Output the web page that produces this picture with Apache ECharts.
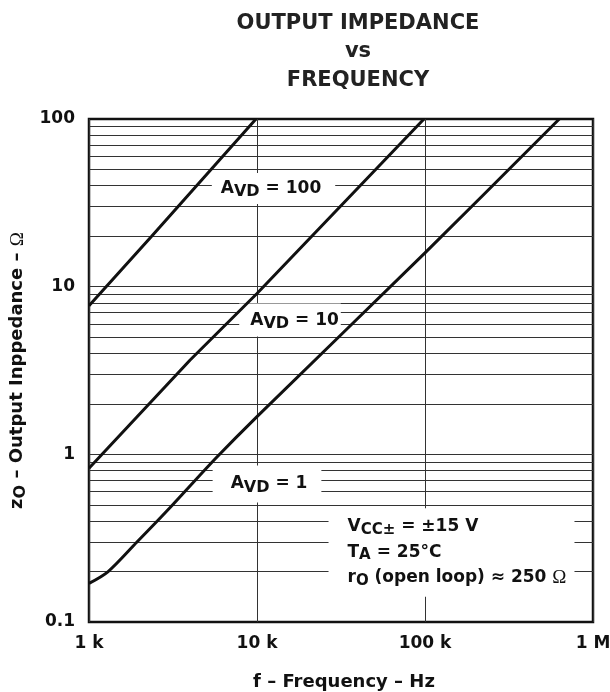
<!DOCTYPE html>
<html><head><meta charset="utf-8">
<script src="https://cdn.jsdelivr.net/npm/echarts@6/dist/echarts.min.js"></script>
<style>html,body{margin:0;padding:0;background:#fff}#c{width:610px;height:692px}</style>
</head><body><div id="c"></div>
<script>
// ---- data ----
const xTickLabels = ['1 k', '10 k', '100 k', '1 M'];      // 10^3 .. 10^6
const yTickLabels = ['0.1', '1', '10', '100'];           // 10^-1 .. 10^2
const gridValues = [0.2,0.3,0.4,0.5,0.6,0.7,0.8,0.9,1,2,3,4,5,6,7,8,9,10,20,30,40,50,60,70,80,90];
const avd100 = [[1000,7.7],[2360,20],[9860,100]];
const avd10  = [[1000,0.825],[4000,3.65],[10000,9.1],[98600,100]];
const avd1   = [[1000,0.17],[1300,0.2],[1930,0.3],[2550,0.4],[3150,0.5],[5700,0.95],[10000,1.68],[100000,15.9],[630000,100]];
const curveLabels = ['A{s|VD} = 100', 'A{s|VD} = 10', 'A{s|VD} = 1'];
const curveLabelAnchors = [[12540,38.5],[15720,6.32],[11470,0.665]];
const conditionLines = ['{t|V}{s|CC±}{t| = ±15 V}', '{t|T}{s|A}{t| = 25°C}', '{t|r}{s|O}{t| (open loop) ≈ 250 }{om|Ω}'];
const conditionAnchor = [143800, 0.26];
const titleText = 'OUTPUT IMPEDANCE\nvs\nFREQUENCY';
const xName = 'f – Frequency – Hz';
const yName = 'z{s|O} – Output Inppedance – {om|Ω}';

// ---- styles ----
const FONT = 'DejaVu Sans';
const INK = '#111';
const labelPads = [[4,14,4,9],[5,2,5,11],[7,14,7,18]];
const subStyle = {fontFamily: FONT, fontSize: 16, fontWeight: 'bold', color: INK, padding: [7,0,0,0]};

const chart = echarts.init(document.getElementById('c'), null, {renderer: 'canvas'});
const lg = v => Math.round(Math.log10(v));

chart.setOption({
  animation: false,
  backgroundColor: '#fff',
  title: {
    text: titleText, left: 358, top: 9, textAlign: 'center', padding: 0,
    textStyle: {fontFamily: FONT, fontSize: 21, fontWeight: 'bold', color: '#222', lineHeight: 28.5}
  },
  grid: {left: 89, right: 17, top: 119, bottom: 70, show: true, borderColor: INK, borderWidth: 2.5,
         backgroundColor: 'transparent', containLabel: false, outerBoundsMode: 'none'},
  xAxis: {
    type: 'log', logBase: 10, min: 1000, max: 1000000,
    name: xName, nameLocation: 'middle', nameGap: 51,
    nameTextStyle: {fontFamily: FONT, fontSize: 18, fontWeight: 'bold', color: INK, padding: [0,0,0,6]},
    axisLine: {show: false}, axisTick: {show: false},
    axisLabel: {margin: 13, fontFamily: FONT, fontSize: 17, fontWeight: 'bold', color: INK,
                formatter: v => xTickLabels[lg(v) - 3]},
    splitLine: {show: true, lineStyle: {color: '#333', width: 1}},
    minorTick: {show: false}, minorSplitLine: {show: false}
  },
  yAxis: {
    type: 'log', logBase: 10, min: 0.1, max: 100,
    name: yName, nameLocation: 'middle', nameGap: 57,
    nameTextStyle: {fontFamily: FONT, fontSize: 18, fontWeight: 'bold', color: INK,
      rich: {s: {fontFamily: FONT, fontSize: 16, fontWeight: 'bold', color: INK, padding: [6,0,0,0]},
             om: {fontFamily: 'Liberation Serif', fontSize: 19, fontWeight: 'normal', color: INK}}},
    axisLine: {show: false}, axisTick: {show: false},
    axisLabel: {margin: 14, fontFamily: FONT, fontSize: 17, fontWeight: 'bold', color: INK, padding: [7,0,0,0],
                formatter: v => yTickLabels[lg(v) + 1]},
    splitLine: {show: false}
  },
  series: [
    {
      type: 'lines', coordinateSystem: 'cartesian2d', z: 1, silent: true, polyline: false,
      lineStyle: {color: '#333', width: 1, opacity: 1, curveness: 0},
      data: gridValues.map(v => ({coords: [[1000, v], [1000000, v]]}))
    },
    {
      type: 'scatter', z: 3, silent: true, symbolSize: 0, itemStyle: {opacity: 1},
      emphasis: {disabled: true},
      data: curveLabelAnchors.map((p, i) => ({
        value: p,
        label: {show: true, position: 'inside', formatter: curveLabels[i], padding: labelPads[i],
                backgroundColor: '#fff', opacity: 1, fontFamily: FONT, fontSize: 17, fontWeight: 'bold', color: INK,
                textBorderWidth: 0, rich: {s: subStyle}}
      })).concat([{
        value: conditionAnchor,
        label: {show: true, position: 'inside', formatter: conditionLines.join('\n'),
                padding: [6,8,6,19], backgroundColor: '#fff', opacity: 1, lineHeight: 25.5, textBorderWidth: 0,
                fontFamily: FONT, fontSize: 17, fontWeight: 'bold', color: INK,
                rich: {
                  t: {fontFamily: FONT, fontSize: 17, fontWeight: 'bold', color: INK, align: 'left', lineHeight: 25.5},
                  s: {fontFamily: FONT, fontSize: 15, fontWeight: 'bold', color: INK, align: 'left', lineHeight: 25.5, padding: [6,0,0,0]},
                  om: {fontFamily: 'Liberation Serif', fontSize: 19, fontWeight: 'normal', color: INK, align: 'left', lineHeight: 25.5}
                }}
      }])
    },
    {type: 'line', name: 'AVD = 100', data: avd100, z: 4, symbol: 'none', lineStyle: {color: INK, width: 3}},
    {type: 'line', name: 'AVD = 10', data: avd10, z: 4, symbol: 'none', lineStyle: {color: INK, width: 3}},
    {type: 'line', name: 'AVD = 1', data: avd1, z: 4, symbol: 'none', smooth: 0.3, lineStyle: {color: INK, width: 3}}
  ]
});
</script>
</body></html>
